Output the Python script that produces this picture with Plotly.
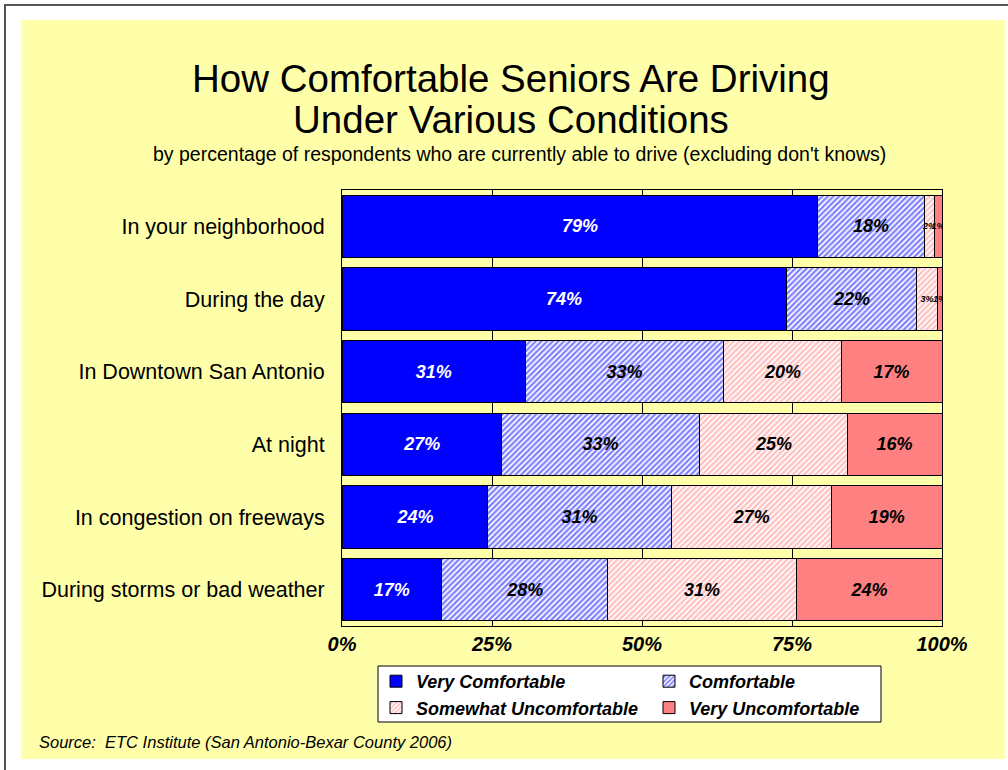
import plotly.graph_objects as go

categories = ["In your neighborhood", "During the day", "In Downtown San Antonio",
              "At night", "In congestion on freeways", "During storms or bad weather"]
very_comfortable = [79.3, 74.0, 30.6, 26.6, 24.3, 16.6]
comfortable = [17.7, 21.8, 33.0, 33.0, 30.6, 27.7]
somewhat_uncomfortable = [1.7, 3.4, 19.6, 24.6, 26.6, 31.4]
very_uncomfortable = [1.3, 0.8, 16.8, 15.8, 18.6, 24.3]
series_names = ["Very Comfortable", "Comfortable", "Somewhat Uncomfortable", "Very Uncomfortable"]
tick_vals = [0, 25, 50, 75, 100]
tick_text = ["0%", "25%", "50%", "75%", "100%"]

FONT = "Liberation Sans, Arial, sans-serif"
W, H = 1008, 770
L, R, T, B = 342, 66, 190, 144
PW, PH = W - L - R, H - T - B


def px_x(px):
    return (px - L) / PW


def px_y(py):
    return (H - B - py) / PH


def sizes(vals):
    return [18 if v >= 8 else 9 for v in vals]


fig = go.Figure()
styles = [
    dict(color="#0000FF", pattern=None, text="white"),
    dict(color="white", pattern=dict(shape="/", fgcolor="#0000FF", bgcolor="white", size=4, solidity=0.55), text="black"),
    dict(color="white", pattern=dict(shape="/", fgcolor="#FF8080", bgcolor="white", size=4, solidity=0.55), text="black"),
    dict(color="#FF8080", pattern=None, text="black"),
]
data = [very_comfortable, comfortable, somewhat_uncomfortable, very_uncomfortable]
for name, vals, st in zip(series_names, data, styles):
    marker = dict(color=st["color"], line=dict(color="black", width=1))
    if st["pattern"]:
        marker["pattern"] = st["pattern"]
    fig.add_trace(go.Bar(
        y=categories, x=vals, name=name, orientation="h", marker=marker,
        text=[f"{round(v)}%" for v in vals], textposition="inside",
        insidetextanchor="middle", textangle=0, constraintext="none",
        textfont=dict(family=FONT, color=st["text"], size=sizes(vals), weight="bold", style="italic"),
        hoverinfo="skip",
    ))

fig.update_layout(
    width=W, height=H, barmode="stack", bargap=0.14,
    margin=dict(l=L, r=R, t=T, b=B),
    paper_bgcolor="white", plot_bgcolor="white",
    font=dict(family=FONT, color="black"),
    showlegend=True,
    legend=dict(
        orientation="h", x=px_x(376), xanchor="left", y=px_y(663), yanchor="top",
        bgcolor="rgba(0,0,0,0)", borderwidth=0,
        entrywidth=228, traceorder="normal",
        font=dict(family=FONT, size=18, color="black", weight="bold", style="italic"),
        itemclick=False,
    ),
    xaxis=dict(
        range=[0, 100], tickvals=tick_vals, ticktext=tick_text,
        showgrid=True, gridcolor="black", gridwidth=1,
        showline=True, linecolor="black", linewidth=1, mirror=True,
        ticks="", zeroline=False,
        tickfont=dict(family=FONT, size=20, color="black", weight="bold", style="italic"),
    ),
    yaxis=dict(
        autorange="reversed", showline=True, linecolor="black", linewidth=1, mirror=True,
        ticks="", ticklabelstandoff=12,
        tickfont=dict(family=FONT, size=21.5, color="black"),
    ),
    shapes=[
        dict(type="rect", xref="paper", yref="paper", layer="below",
             x0=px_x(5), x1=px_x(1012), y0=px_y(775), y1=px_y(5),
             line=dict(color="#555555", width=2), fillcolor="white"),
        dict(type="rect", xref="paper", yref="paper", layer="below",
             x0=px_x(21), x1=px_x(1005), y0=px_y(759), y1=px_y(20),
             line=dict(width=0), fillcolor="#FFFFAA"),
        dict(type="rect", xref="paper", yref="paper", layer="below",
             x0=px_x(378), x1=px_x(881), y0=px_y(722), y1=px_y(666),
             line=dict(color="black", width=1), fillcolor="white"),
    ],
    annotations=[
        dict(text="How Comfortable Seniors Are Driving", xref="paper", yref="paper",
             x=px_x(511), y=px_y(79), xanchor="center", yanchor="middle", showarrow=False,
             font=dict(family=FONT, size=38.5, color="black")),
        dict(text="Under Various Conditions", xref="paper", yref="paper",
             x=px_x(511), y=px_y(119), xanchor="center", yanchor="middle", showarrow=False,
             font=dict(family=FONT, size=38.5, color="black")),
        dict(text="by percentage of respondents who are currently able to drive (excluding don't knows)",
             xref="paper", yref="paper",
             x=px_x(519), y=px_y(154), xanchor="center", yanchor="middle", showarrow=False,
             font=dict(family=FONT, size=19.5, color="black")),
        dict(text="Source:  ETC Institute (San Antonio-Bexar County 2006)", xref="paper", yref="paper",
             x=px_x(37), y=px_y(742), xanchor="left", yanchor="middle", showarrow=False,
             font=dict(family=FONT, size=16.5, color="black", style="italic")),
    ],
)

fig.write_html("out.html", config={"displayModeBar": False},
               post_script="document.body.style.margin='0px';")
